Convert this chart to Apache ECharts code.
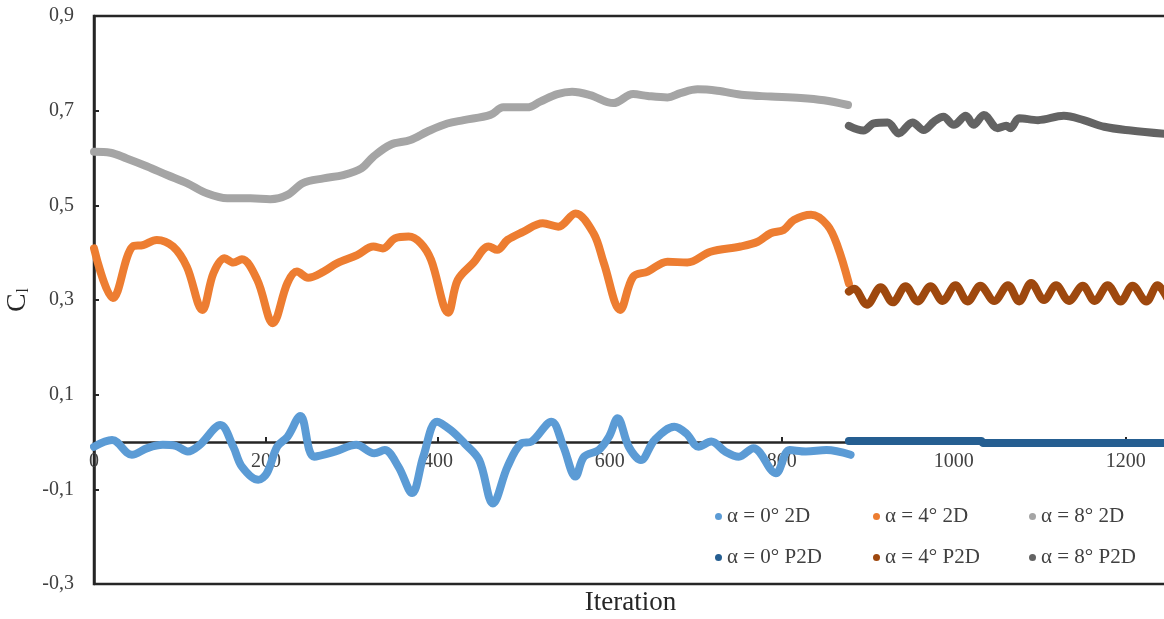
<!DOCTYPE html>
<html>
<head>
<meta charset="utf-8">
<script src="https://cdn.jsdelivr.net/npm/echarts@6/dist/echarts.min.js"></script>
<style>
html,body{margin:0;padding:0;background:#fff;}
#chart{width:1164px;height:619px;}
</style>
</head>
<body>
<div id="chart"></div>
<script>
// Lift coefficient history per angle of attack: 2D runs, then P2D continuation
const seriesNames = ['α = 0° 2D', 'α = 4° 2D', 'α = 8° 2D', 'α = 0° P2D', 'α = 4° P2D', 'α = 8° P2D'];
const xTicks = [0, 200, 400, 600, 800, 1000, 1200];
const yTicks = [-0.3, -0.1, 0.1, 0.3, 0.5, 0.7, 0.9];

const cl0_2D = [[0,-0.010],[21,0.004],[44,-0.027],[62,-0.013],[80,-0.006],[95,-0.008],[109,-0.020],[123,-0.006],[147,0.036],[162,-0.010],[172,-0.052],[191,-0.080],[201,-0.066],[213,-0.010],[225,0.011],[240,0.055],[256,-0.031],[281,-0.020],[305,-0.006],[326,-0.024],[338,-0.017],[354,-0.052],[370,-0.108],[383,-0.031],[399,0.043],[415,0.025],[431,-0.003],[448,-0.038],[464,-0.130],[481,-0.052],[497,-0.003],[509,0.001],[532,0.043],[546,-0.010],[560,-0.073],[570,-0.031],[587,-0.017],[599,0.011],[609,0.050],[622,-0.010],[636,-0.038],[652,0.004],[675,0.032],[689,0.018],[703,-0.010],[718,0.001],[734,-0.020],[750,-0.031],[767,-0.013],[793,-0.066],[809,-0.017],[828,-0.020],[852,-0.017],[880,-0.027]];

const cl4_2D = [[0,0.409],[22,0.304],[45,0.413],[57,0.416],[73,0.427],[92,0.413],[108,0.370],[126,0.279],[139,0.357],[152,0.388],[162,0.379],[172,0.386],[190,0.342],[208,0.251],[225,0.336],[236,0.360],[249,0.347],[267,0.360],[283,0.378],[306,0.395],[325,0.413],[336,0.409],[350,0.430],[366,0.434],[380,0.420],[392,0.385],[412,0.273],[423,0.342],[441,0.378],[459,0.413],[469,0.406],[481,0.427],[499,0.444],[522,0.462],[540,0.455],[560,0.483],[581,0.441],[593,0.378],[612,0.279],[627,0.349],[644,0.360],[667,0.381],[690,0.379],[717,0.402],[752,0.413],[772,0.423],[787,0.441],[802,0.448],[814,0.469],[834,0.480],[853,0.458],[865,0.413],[878,0.335]];

const cl8_2D = [[0,0.613],[19,0.611],[38,0.599],[62,0.582],[85,0.564],[108,0.547],[132,0.525],[155,0.515],[182,0.515],[205,0.513],[225,0.522],[243,0.547],[267,0.557],[290,0.564],[311,0.578],[325,0.603],[345,0.628],[368,0.638],[388,0.656],[411,0.673],[430,0.680],[461,0.691],[476,0.707],[504,0.707],[519,0.719],[539,0.735],[556,0.740],[577,0.733],[604,0.716],[627,0.735],[644,0.731],[667,0.728],[682,0.737],[702,0.745],[725,0.742],[756,0.733],[787,0.730],[822,0.727],[849,0.722],[877,0.712]];

const cl0_P2D = [[878,0.002],[1032,0.002],[1034,-0.002],[1248,-0.002]];

const cl4_P2D = [[878,0.318],[884,0.324],[899,0.290],[915,0.327],[929,0.295],[944,0.329],[958,0.297],[973,0.329],[987,0.298],[1002,0.331],[1016,0.297],[1031,0.330],[1047,0.298],[1063,0.331],[1076,0.297],[1090,0.336],[1105,0.300],[1119,0.331],[1134,0.298],[1150,0.330],[1164,0.298],[1179,0.331],[1194,0.297],[1208,0.330],[1224,0.297],[1237,0.331],[1248,0.305]];

const cl8_P2D = [[878,0.668],[895,0.658],[907,0.673],[923,0.675],[936,0.652],[952,0.675],[965,0.659],[977,0.677],[988,0.687],[1000,0.670],[1014,0.689],[1023,0.670],[1035,0.691],[1051,0.663],[1061,0.668],[1066,0.663],[1076,0.684],[1098,0.680],[1128,0.689],[1151,0.680],[1175,0.666],[1206,0.658],[1245,0.651]];

const seriesData = [cl0_2D, cl4_2D, cl8_2D, cl0_P2D, cl4_P2D, cl8_P2D];
const colors = ['#5B9BD5', '#ED7D31', '#A5A5A5', '#255E91', '#9E480E', '#636363'];

const FONT = 'Liberation Serif';
const TEXT = '#404040';
const AXIS = '#262626';

// plot box and y range; the x axis sits on the zero line
const GRID = { left: 94, right: -3, top: 16, bottom: 35 };
const Y_MIN = -0.3, Y_MAX = 0.9;
const plotH = 619 - GRID.top - GRID.bottom;
const zeroShift = plotH * (0 - Y_MIN) / (Y_MAX - Y_MIN);

// legend placement: 3 columns x 2 rows
const legendCols = [715, 873, 1029];
const legendRows = [506, 547];

const chart = echarts.init(document.getElementById('chart'));

chart.setOption({
  animation: false,
  backgroundColor: '#fff',
  color: colors,
  grid: Object.assign({
    outerBoundsMode: 'none', containLabel: false,
    show: true, borderColor: AXIS, borderWidth: 2.5, backgroundColor: 'transparent'
  }, GRID),
  xAxis: {
    type: 'value', min: 0, max: 1248,
    offset: -zeroShift,
    axisLine: { onZero: false, lineStyle: { color: AXIS, width: 2.5 } },
    axisTick: { inside: true, length: 5, customValues: xTicks, lineStyle: { color: AXIS, width: 2 } },
    axisLabel: {
      customValues: xTicks, color: TEXT, fontFamily: FONT, fontSize: 20, margin: 10,
      formatter: v => String(v)
    },
    splitLine: { show: false },
    name: 'Iteration', nameLocation: 'middle', nameGap: 147,
    nameTextStyle: { color: '#262626', fontFamily: FONT, fontSize: 27 }
  },
  yAxis: {
    type: 'value', min: Y_MIN, max: Y_MAX,
    axisLine: { lineStyle: { color: AXIS, width: 2.5 } },
    axisTick: { inside: true, length: 5, customValues: yTicks, lineStyle: { color: AXIS, width: 2 } },
    axisLabel: {
      customValues: yTicks, color: TEXT, fontFamily: FONT, fontSize: 20, margin: 20,
      formatter: v => v.toFixed(1).replace('.', ',')
    },
    splitLine: { show: false },
    name: '{c|C}{s|l}', nameLocation: 'middle', nameRotate: 90, nameGap: 46,
    nameTextStyle: {
      rich: {
        c: { fontFamily: FONT, fontSize: 28, color: '#262626', lineHeight: 30, verticalAlign: 'bottom' },
        s: { fontFamily: FONT, fontSize: 16, color: '#262626', lineHeight: 30, verticalAlign: 'bottom', padding: [0, 0, 0, 1] }
      }
    }
  },
  legend: seriesNames.map((n, i) => ({
    data: [n],
    left: legendCols[i % 3],
    top: legendRows[Math.floor(i / 3)],
    padding: 0,
    icon: 'circle', itemWidth: 7, itemHeight: 7,
    textStyle: { color: TEXT, fontFamily: FONT, fontSize: 21 }
  })),
  series: seriesNames.map((n, i) => ({
    name: n, type: 'line', data: seriesData[i],
    smooth: 0.35, showSymbol: false, symbol: 'circle',
    lineStyle: { width: 8, color: colors[i], cap: 'round', join: 'round' },
    itemStyle: { color: colors[i] },
    z: i >= 3 ? 3 : 2
  }))
});
</script>
</body>
</html>
